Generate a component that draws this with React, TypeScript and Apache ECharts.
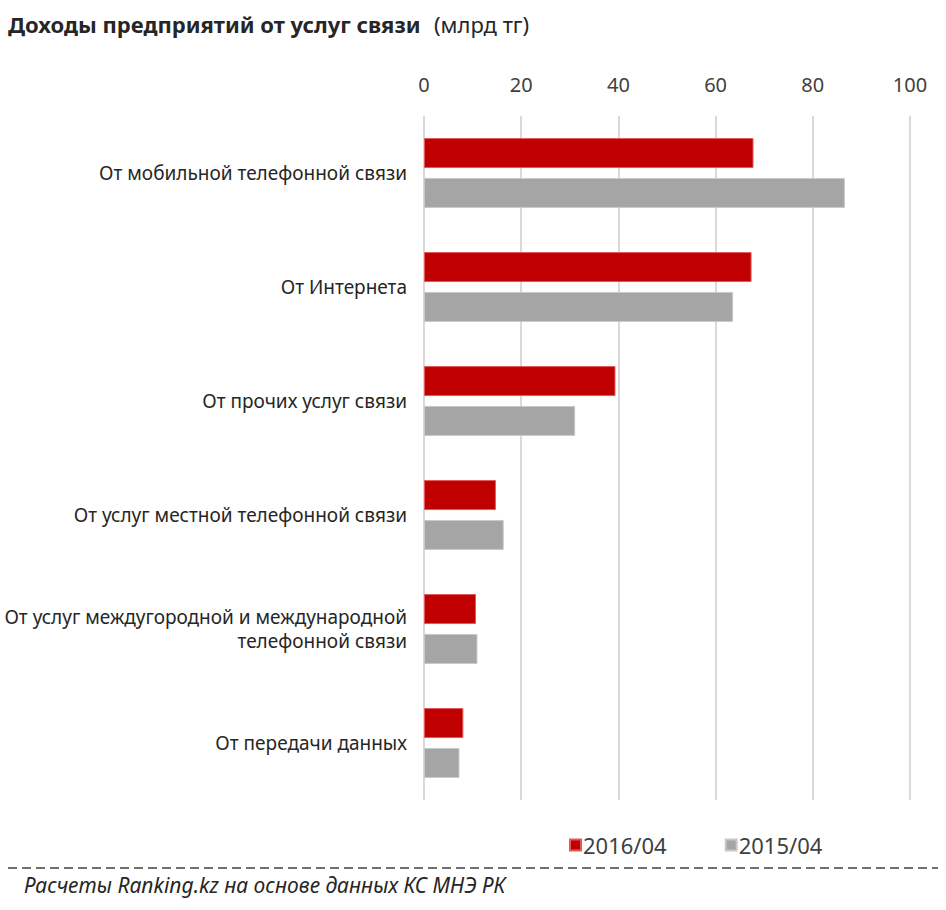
import React, { useEffect, useRef } from "react";
import * as echarts from "echarts";

const categories = [
  "От мобильной телефонной связи",
  "От Интернета",
  "От прочих услуг связи",
  "От услуг местной телефонной связи",
  "От услуг междугородной и международной\nтелефонной связи",
  "От передачи данных",
];
const series2016 = [67.8, 67.4, 39.4, 14.8, 10.7, 8.1];
const series2015 = [86.6, 63.6, 31.1, 16.4, 11.0, 7.3];
const xTicks = [0, 20, 40, 60, 80, 100];
const seriesNames = ["2016/04", "2015/04"];

export default function App() {
  const ref = useRef<HTMLDivElement>(null);
  useEffect(() => {
    document.body.style.margin = "0";
    const chart = echarts.init(ref.current!, undefined, { renderer: "svg" });
    const font = "'Noto Sans', sans-serif";
    chart.setOption({
      animation: false,
      backgroundColor: "#ffffff",
      textStyle: { fontFamily: font },
      legend: {
        data: seriesNames,
        left: 564,
        top: 829,
        icon: "rect",
        itemWidth: 11,
        itemHeight: 11,
        itemGap: 58,
        textStyle: { fontFamily: font, fontSize: 22, color: "#404040", padding: [0, 0, 0, -3] },
      },
      grid: { left: 424, right: 36, top: 116, bottom: 110, containLabel: false },
      xAxis: {
        type: "value",
        position: "top",
        min: 0,
        max: 100,
        interval: 20,
        axisLine: { show: false },
        axisTick: { show: false },
        splitLine: { lineStyle: { color: "#d9d9d9", width: 2 } },
        axisLabel: {
          margin: 22,
          fontFamily: font,
          fontSize: 20,
          color: "#404040",
          formatter: (v: number) => (xTicks.includes(v) ? String(v) : ""),
        },
      },
      yAxis: {
        type: "category",
        data: categories,
        inverse: true,
        axisLine: { show: false },
        axisTick: { show: false },
        axisLabel: {
          margin: 17,
          fontFamily: font,
          fontSize: 19,
          lineHeight: 24,
          color: "#262626",
          align: "right",
        },
      },
      series: [
        {
          name: seriesNames[0],
          type: "bar",
          data: series2016,
          barWidth: 30,
          barGap: "33%",
          itemStyle: { color: "#c00000", borderColor: "#e25a5a", borderWidth: 1 },
        },
        {
          name: seriesNames[1],
          type: "bar",
          data: series2015,
          barWidth: 30,
          itemStyle: { color: "#a5a5a5", borderColor: "#c8c8c8", borderWidth: 1 },
        },
      ],
      graphic: [
        {
          type: "text",
          left: 8,
          top: 13,
          style: {
            text: "Доходы предприятий от услуг связи",
            fontFamily: font,
            fontWeight: "bold",
            fontSize: 22,
            fill: "#262626",
          },
        },
        {
          type: "text",
          left: 434,
          top: 13,
          style: {
            text: "(млрд тг)",
            fontFamily: font,
            fontSize: 22,
            fill: "#262626",
          },
        },
        {
          type: "line",
          shape: { x1: 8, y1: 868, x2: 938, y2: 868 },
          style: { stroke: "#404040", lineWidth: 1.5, lineDash: [9, 5] },
        },
        {
          type: "text",
          left: 24,
          top: 874,
          style: {
            text: "Расчеты Ranking.kz на основе данных КС МНЭ РК",
            fontFamily: font,
            fontStyle: "italic",
            fontSize: 21,
            fill: "#262626",
          },
        },
      ],
    });
    return () => chart.dispose();
  }, []);
  return <div ref={ref} style={{ width: 946, height: 910 }} />;
}
